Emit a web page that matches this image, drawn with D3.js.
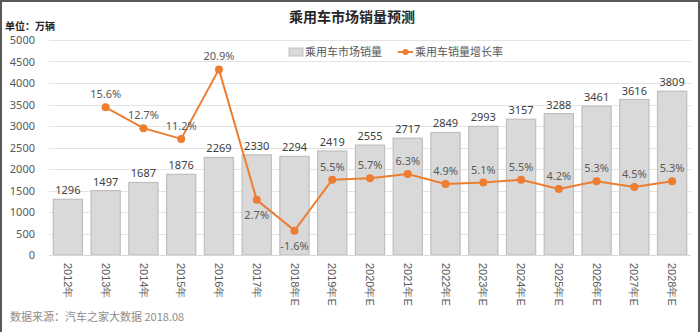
<!DOCTYPE html>
<html>
<head>
<meta charset="utf-8">
<script src="https://cdn.jsdelivr.net/npm/d3@7"></script>
<style>
html,body{margin:0;padding:0;background:#fff;}
svg{display:block;font-family:"Noto Sans CJK SC","Noto Sans",sans-serif;}
</style>
</head>
<body>
<svg id="chart" width="700" height="332"></svg>
<script>
const categories = ["2012年","2013年","2014年","2015年","2016年","2017年","2018年E","2019年E","2020年E","2021年E","2022年E","2023年E","2024年E","2025年E","2026年E","2027年E","2028年E"];
const sales = [1296,1497,1687,1876,2269,2330,2294,2419,2555,2717,2849,2993,3157,3288,3461,3616,3809];
const growth = [null,15.6,12.7,11.2,20.9,2.7,-1.6,5.5,5.7,6.3,4.9,5.1,5.5,4.2,5.3,4.5,5.3];
const yTicks = [0,500,1000,1500,2000,2500,3000,3500,4000,4500,5000];
const labelsBelow = ["2017年","2018年E"];
const title = "乘用车市场销量预测";
const unitText = "单位：万辆";
const seriesNames = ["乘用车市场销量","乘用车销量增长率"];
const sourceText = "数据来源：汽车之家大数据 2018.08";

const svg = d3.select("#chart");
const W = 700, H = 332;
const m = {left:49, right:9, top:40, bottom:77};

const x = d3.scaleBand().domain(categories).range([m.left, W - m.right]).paddingInner(0.2).paddingOuter(0.1);
const y = d3.scaleLinear().domain([0,5000]).range([H - m.bottom, m.top]);
const y2 = d3.scaleLinear().domain([-5,25]).range([H - m.bottom, m.top]);

// border
svg.append("rect").attr("x",1).attr("y",1).attr("width",W-2).attr("height",H+20)
  .attr("fill","none").attr("stroke","#595959").attr("stroke-width",2);

// gridlines
svg.append("g").selectAll("line").data(yTicks.slice(1)).join("line")
  .attr("x1", m.left).attr("x2", W - m.right)
  .attr("y1", d => Math.round(y(d))+0.5).attr("y2", d => Math.round(y(d))+0.5)
  .attr("stroke","#e3e3e3").attr("stroke-width",1);

// y axis labels
const yAxis = d3.axisLeft(y).tickValues(yTicks).tickSize(0).tickPadding(0).tickFormat(d3.format("d"));
const gy = svg.append("g").attr("transform",`translate(${m.left-14},0)`).call(yAxis);
gy.select(".domain").remove();
gy.selectAll("text").attr("fill","#595959").style("font-size","11px").style("font-family","'Noto Sans','Open Sans',sans-serif");

// bars
svg.append("g").selectAll("rect").data(sales).join("rect")
  .attr("x",(d,i)=>x(categories[i])+0.5)
  .attr("y",d=>y(d))
  .attr("width",x.bandwidth()-1)
  .attr("height",d=>y(0)-y(d))
  .attr("fill","#d9d9d9").attr("stroke","#bfbfbf").attr("stroke-width",1.2);

// axis baseline
svg.append("line").attr("x1",m.left).attr("x2",W-m.right).attr("y1",y(0)+0.5).attr("y2",y(0)+0.5)
  .attr("stroke","#d9d9d9").attr("stroke-width",1);

// bar labels
svg.append("g").selectAll("text").data(sales).join("text")
  .attr("x",(d,i)=>x(categories[i])+x.bandwidth()/2)
  .attr("y",d=>y(d)-5)
  .attr("text-anchor","middle")
  .attr("fill","#404040").style("font-size","11px")
  .style("font-family","'Noto Sans','Open Sans',sans-serif")
  .text(d=>d);

// x labels
const xAxis = d3.axisBottom(x).tickSize(0).tickPadding(0);
const gx = svg.append("g").attr("transform",`translate(0,${y(0)})`).call(xAxis);
gx.select(".domain").remove();
gx.selectAll("text")
  .attr("transform","translate(0,8) rotate(90)")
  .attr("y",0).attr("x",0).attr("dy","0.35em")
  .attr("text-anchor","start")
  .attr("fill","#595959").style("font-size","11px");

// line
const pts = growth.map((g,i)=>({c:categories[i], g})).filter(d=>d.g!==null);
const line = d3.line().x(d=>x(d.c)+x.bandwidth()/2).y(d=>y2(d.g));
svg.append("path").datum(pts).attr("d",line).attr("fill","none")
  .attr("stroke","#ed7d31").attr("stroke-width",2);
svg.append("g").selectAll("circle").data(pts).join("circle")
  .attr("cx",d=>x(d.c)+x.bandwidth()/2).attr("cy",d=>y2(d.g)).attr("r",4)
  .attr("fill","#ed7d31");
svg.append("g").selectAll("text").data(pts).join("text")
  .attr("x",d=>x(d.c)+x.bandwidth()/2)
  .attr("y",d=>labelsBelow.includes(d.c) ? y2(d.g)+19 : y2(d.g)-9)
  .attr("text-anchor","middle")
  .attr("fill","#595959").style("font-size","11px")
  .style("font-family","'Noto Sans','Open Sans',sans-serif")
  .text(d=>d.g.toFixed(1)+"%");

// title
svg.append("text").attr("x",352).attr("y",22).attr("text-anchor","middle")
  .attr("fill","#262626").style("font-size","14px").style("font-weight","bold").text(title);
svg.append("text").attr("x",5).attr("y",30)
  .attr("fill","#262626").style("font-size","10px").style("font-weight","bold").text(unitText);

// legend
const lg = svg.append("g");
lg.append("rect").attr("x",289).attr("y",48).attr("width",14).attr("height",8)
  .attr("fill","#d9d9d9").attr("stroke","#bfbfbf");
lg.append("text").attr("x",305).attr("y",56).attr("fill","#595959").style("font-size","11px").text(seriesNames[0]);
lg.append("line").attr("x1",398).attr("x2",413).attr("y1",52).attr("y2",52).attr("stroke","#ed7d31").attr("stroke-width",2);
lg.append("circle").attr("cx",405.5).attr("cy",52).attr("r",3).attr("fill","#ed7d31");
lg.append("text").attr("x",415).attr("y",56).attr("fill","#595959").style("font-size","11px").text(seriesNames[1]);

// source
svg.append("text").attr("x",10).attr("y",321).attr("fill","#8c8c8c").style("font-size","11px").text(sourceText);
</script>
</body>
</html>
